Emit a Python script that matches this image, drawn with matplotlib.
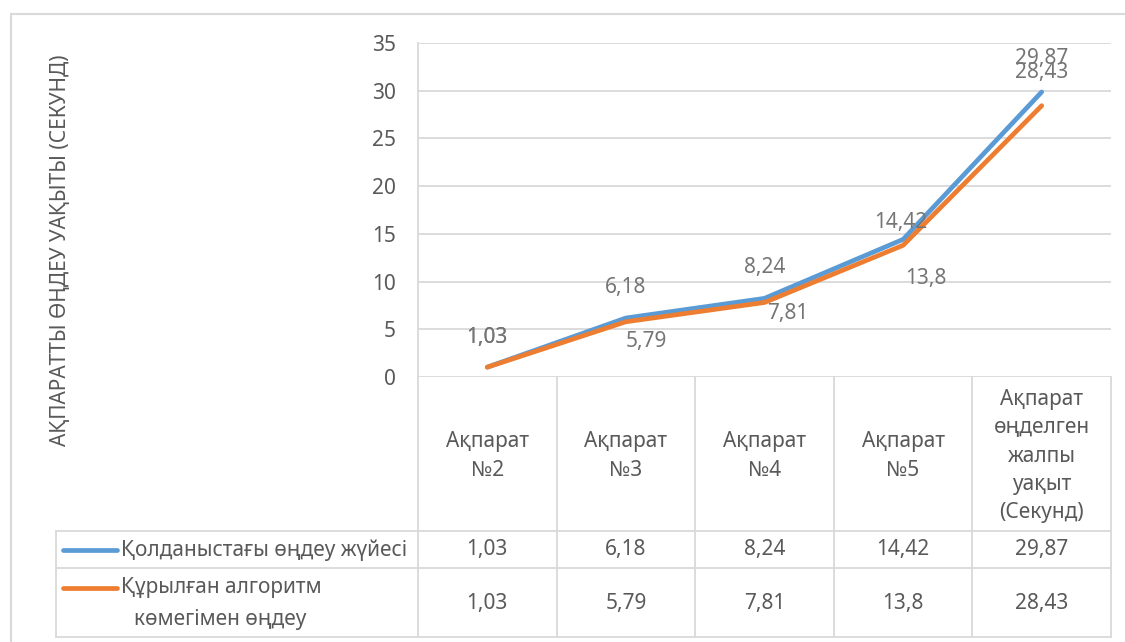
import numpy as np
import matplotlib.pyplot as plt
from matplotlib.lines import Line2D
from matplotlib.patches import Rectangle

plt.rcParams['font.family'] = ['Noto Sans', 'DejaVu Sans']

categories = ['Ақпарат\n№2', 'Ақпарат\n№3', 'Ақпарат\n№4', 'Ақпарат\n№5',
              'Ақпарат\nөңделген\nжалпы\nуақыт\n(Секунд)']
current = [1.03, 6.18, 8.24, 14.42, 29.87]
proposed = [1.03, 5.79, 7.81, 13.8, 28.43]
name_current = 'Қолданыстағы өңдеу жүйесі'
name_proposed = ['Құрылған алгоритм', 'көмегімен өңдеу']
yticks = [0, 5, 10, 15, 20, 25, 30, 35]
ylabel = 'АҚПАРАТТЫ ӨҢДЕУ УАҚЫТЫ (СЕКУНД)'

# label offsets in pixels (dx, dy)
off_current = [(0, 30), (0, 31), (0, 31), (-2, 17), (0, 33)]
off_proposed = [(0, 30), (20, -20), (23, -11), (23, -33), (0, 33)]

BLUE = '#5B9BD5'
ORANGE = '#ED7D31'
GRID = '#D9D9D9'
TXT = '#595959'
LBL = '#757575'
FS = 15

W, H = 1125, 642
fig = plt.figure(figsize=(W / 100, H / 100), dpi=100)


def fx(px):
    return px / W


def fy(py):
    return 1 - py / H


def comma(v):
    return f'{v:g}'.replace('.', ',')


# plot area
left, right, top, bottom = 418, 1111, 43, 377
ax = fig.add_axes([fx(left), fy(bottom), fx(right - left), (bottom - top) / H])
x = np.arange(len(categories))
ax.set_xlim(-0.5, len(categories) - 0.5)
ax.set_ylim(0, 35)
ax.set_yticks(yticks)
ax.set_yticklabels([str(t) for t in yticks], fontsize=FS, color=TXT)
ax.tick_params(axis='y', length=0, pad=16)
ax.set_xticks([])
ax.yaxis.grid(True, color=GRID, lw=1.3)
ax.set_axisbelow(True)
for s in ['top', 'right', 'bottom']:
    ax.spines[s].set_visible(False)
ax.spines['left'].set_color(GRID)
ax.spines['left'].set_linewidth(1.3)

ax.plot(x, current, color=BLUE, lw=3.4, solid_capstyle='round', zorder=3)
ax.plot(x, proposed, color=ORANGE, lw=3.4, solid_capstyle='round', zorder=4)

for xi, v, (dx, dy) in zip(x, current, off_current):
    ax.annotate(comma(v), (xi, v), xytext=(dx, dy), textcoords='offset pixels',
                ha='center', va='center', fontsize=FS, color=LBL, zorder=5)
for xi, v, (dx, dy) in zip(x, proposed, off_proposed):
    ax.annotate(comma(v), (xi, v), xytext=(dx, dy), textcoords='offset pixels',
                ha='center', va='center', fontsize=FS, color=LBL, zorder=5)

fig.text(fx(60), fy(250), ylabel, rotation=90, ha='center', va='center',
         fontsize=FS, color=TXT)

# data table under the plot
tleft, tbottom = 56, 637
row1, row2 = 531, 568
col_w = (right - left) / len(categories)
tab = fig.add_axes([fx(tleft), fy(tbottom), fx(right - tleft), (tbottom - bottom) / H])
xmin = -0.5 - (left - tleft) / col_w
tab.set_xlim(xmin, len(categories) - 0.5)
tab.set_ylim(tbottom, bottom)
tab.axis('off')

for e in np.arange(len(categories) + 1) - 0.5:
    tab.plot([e, e], [bottom, tbottom], color=GRID, lw=1.3, clip_on=False)
tab.plot([xmin, xmin], [row1, tbottom], color=GRID, lw=1.3, clip_on=False)
for yy in [row1, row2, tbottom]:
    tab.plot([xmin, len(categories) - 0.5], [yy, yy], color=GRID, lw=1.3, clip_on=False)

for xi, c in zip(x, categories):
    tab.text(xi, 456, c, ha='center', va='center', fontsize=FS, color=TXT,
             linespacing=1.45)
for xi, v in zip(x, current):
    tab.text(xi, 550, comma(v), ha='center', va='center', fontsize=FS, color=TXT)
for xi, v in zip(x, proposed):
    tab.text(xi, 604, comma(v), ha='center', va='center', fontsize=FS, color=TXT)

# legend keys inside the table
fig.add_artist(Line2D([fx(63), fx(117)], [fy(550), fy(550)], color=BLUE, lw=3.4,
                      solid_capstyle='round'))
fig.add_artist(Line2D([fx(63), fx(117)], [fy(588), fy(588)], color=ORANGE, lw=3.4,
                      solid_capstyle='round'))
fig.text(fx(121), fy(550), name_current, ha='left', va='center', fontsize=FS, color=TXT)
fig.text(fx(121), fy(588), name_proposed[0], ha='left', va='center', fontsize=FS, color=TXT)
fig.text(fx(134), fy(619), name_proposed[1], ha='left', va='center', fontsize=FS, color=TXT)

# chart border
fig.add_artist(Rectangle((fx(11), fy(660)), fx(1140 - 11), (660 - 14) / H,
                         transform=fig.transFigure, fill=False, ec=GRID, lw=1.5))

fig.savefig('out.png', dpi=100)
